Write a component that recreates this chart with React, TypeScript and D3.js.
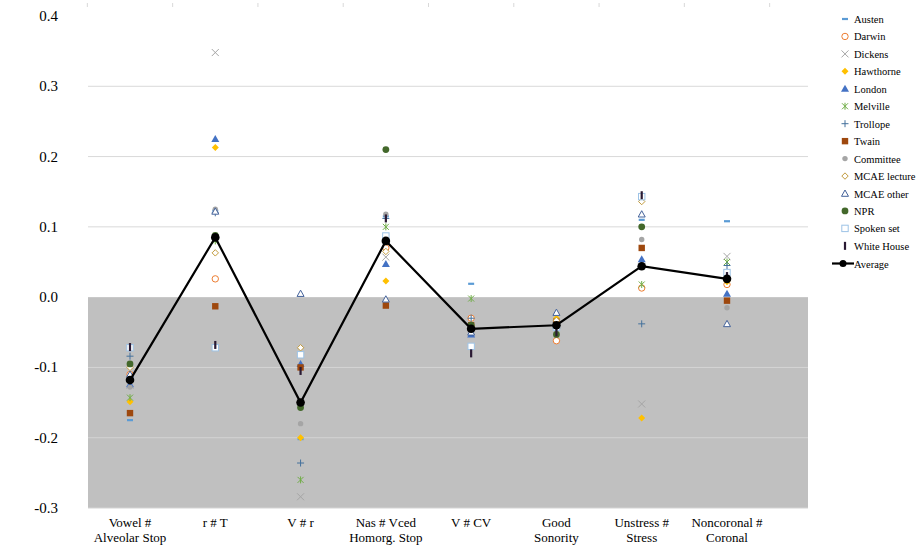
import React from "react";
import * as d3 from "d3";

const categories = [["Vowel #", "Alveolar Stop"], ["r # T"], ["V # r"], ["Nas # Vced", "Homorg. Stop"], ["V # CV"], ["Good", "Sonority"], ["Unstress #", "Stress"], ["Noncoronal #", "Coronal"]];
const yTicks = [0.4, 0.3, 0.2, 0.1, 0.0, -0.1, -0.2, -0.3];
const seriesNames = ["Austen", "Darwin", "Dickens", "Hawthorne", "London", "Melville", "Trollope", "Twain", "Committee", "MCAE lecture", "MCAE other", "NPR", "Spoken set", "White House"];
const Austen = [-0.175, 0.123, -0.202, 0.115, 0.019, -0.04, 0.11, 0.108];
const Darwin = [-0.11, 0.026, -0.15, 0.07, -0.03, -0.062, 0.013, 0.018];
const Dickens = [-0.125, 0.348, -0.284, 0.057, -0.045, -0.04, -0.152, 0.058];
const Hawthorne = [-0.149, 0.213, -0.2, 0.023, -0.045, -0.03, -0.172, 0.022];
const London = [-0.124, 0.225, -0.095, 0.047, -0.053, -0.04, 0.054, 0.005];
const Melville = [-0.143, 0.08, -0.26, 0.1, -0.002, -0.04, 0.018, 0.05];
const Trollope = [-0.084, 0.12, -0.236, 0.112, -0.03, -0.04, -0.038, 0.045];
const Twain = [-0.165, -0.013, -0.1, -0.012, -0.04, -0.035, 0.07, -0.005];
const Committee = [-0.128, 0.125, -0.18, 0.118, -0.05, -0.04, 0.082, -0.015];
const MCAElecture = [-0.1, 0.063, -0.072, 0.065, -0.04, -0.033, 0.136, 0.025];
const MCAEother = [-0.11, 0.122, 0.005, -0.003, -0.05, -0.022, 0.118, -0.038];
const NPR = [-0.095, 0.088, -0.157, 0.21, -0.04, -0.053, 0.1, 0.025];
const SpokenSet = [-0.072, -0.072, -0.082, 0.087, -0.07, -0.043, 0.143, 0.035];
const WhiteHouse = [-0.071, -0.068, -0.105, 0.112, -0.08, -0.05, 0.145, 0.03];
const Average = [-0.118, 0.085, -0.15, 0.08, -0.045, -0.04, 0.044, 0.026];
const seriesValues = [Austen, Darwin, Dickens, Hawthorne, London, Melville, Trollope, Twain, Committee, MCAElecture, MCAEother, NPR, SpokenSet, WhiteHouse];

const FONT = "'Times New Roman', Times, 'Liberation Serif', serif";

function Marker({ i, x, y }: { i: number; x: number; y: number }) {
  switch (i) {
    case 0: return <rect x={x - 3} y={y - 1.1} width={6} height={2.2} fill="#5b9bd5" />;
    case 1: return <circle cx={x} cy={y} r={3.2} fill="white" stroke="#ed7d31" strokeWidth={1} />;
    case 2: return <path d={`M${x - 3.5},${y - 3.5}L${x + 3.5},${y + 3.5}M${x - 3.5},${y + 3.5}L${x + 3.5},${y - 3.5}`} stroke="#a5a5a5" strokeWidth={1} />;
    case 3: return <path d={`M${x},${y - 3.5}L${x + 3.5},${y}L${x},${y + 3.5}L${x - 3.5},${y}Z`} fill="#ffc000" />;
    case 4: return <path d={`M${x},${y - 4}L${x + 4},${y + 3}L${x - 4},${y + 3}Z`} fill="#4472c4" />;
    case 5: return <path d={`M${x - 3},${y - 3}L${x + 3},${y + 3}M${x - 3},${y + 3}L${x + 3},${y - 3}M${x},${y - 3.5}L${x},${y + 3.5}`} stroke="#70ad47" strokeWidth={1} />;
    case 6: return <path d={`M${x - 3.5},${y}L${x + 3.5},${y}M${x},${y - 3.5}L${x},${y + 3.5}`} stroke="#44719c" strokeWidth={1} />;
    case 7: return <rect x={x - 3.2} y={y - 3.2} width={6.4} height={6.4} fill="#9e480e" />;
    case 8: return <circle cx={x} cy={y} r={2.7} fill="#a5a5a5" />;
    case 9: return <path d={`M${x},${y - 3.2}L${x + 3.2},${y}L${x},${y + 3.2}L${x - 3.2},${y}Z`} fill="white" stroke="#c19a3c" strokeWidth={1} />;
    case 10: return <path d={`M${x},${y - 3.5}L${x + 3.5},${y + 2.8}L${x - 3.5},${y + 2.8}Z`} fill="white" stroke="#44629a" strokeWidth={1} />;
    case 11: return <circle cx={x} cy={y} r={3.4} fill="#43682b" />;
    case 12: return <rect x={x - 3.2} y={y - 3.2} width={6.4} height={6.4} fill="white" stroke="#9dc3e6" strokeWidth={1} />;
    case 13: return <rect x={x - 1.1} y={y - 4} width={2.2} height={8} fill="#2a1a33" />;
    default: return null;
  }
}

export default function App() {
  const W = 920, H = 550;
  const plotL = 88, plotR = 808;
  const x = d3.scalePoint<number>().domain(d3.range(categories.length)).range([130, 727]);
  const y = d3.scaleLinear().domain([-0.3, 0.4]).range([508, 16]);
  const line = d3.line<number>().x((_, i) => x(i)!).y((d) => y(d));
  const step = x.step();
  return (
    <svg width={W} height={H} style={{ position: "absolute", left: 0, top: 0, fontFamily: FONT }}>
      <rect x={0} y={0} width={W} height={H} fill="white" />
      <rect x={plotL} y={y(0)} width={plotR - plotL} height={y(-0.3) - y(0)} fill="#c0c0c0" />
      {yTicks.map((t) => (
        <g key={t}>
          {t !== 0 && t !== 0.4 && <line x1={plotL} x2={plotR} y1={y(t)} y2={y(t)} stroke={t > 0 ? "#d9d9d9" : "#d4d4d4"} strokeWidth={1} />}
          <text x={58} y={y(t) + 5} textAnchor="end" fontSize={15}>{t.toFixed(1)}</text>
        </g>
      ))}
      {d3.range(categories.length + 1).map((i) => (
        <line key={i} x1={130 - step / 2 + i * step} x2={130 - step / 2 + i * step} y1={3} y2={7} stroke="#d9d9d9" />
      ))}
      {categories.map((c, i) => (
        <text key={i} x={x(i)} y={527} textAnchor="middle" fontSize={13}>
          {c.map((l, j) => <tspan key={j} x={x(i)} dy={j === 0 ? 0 : 15}>{l}</tspan>)}
        </text>
      ))}
      {seriesValues.map((vals, si) => vals.map((v, ci) => <Marker key={`${si}-${ci}`} i={si} x={x(ci)!} y={y(v)} />))}
      <path d={line(Average)!} fill="none" stroke="black" strokeWidth={2.2} />
      {Average.map((v, i) => <circle key={i} cx={x(i)} cy={y(v)} r={4.3} fill="black" />)}
      {seriesNames.map((n, i) => (
        <g key={n}>
          <Marker i={i} x={845} y={19 + i * 17.45} />
          <text x={854} y={23 + i * 17.45} fontSize={10.5}>{n}</text>
        </g>
      ))}
      <g>
        <line x1={832} x2={854} y1={263.5} y2={263.5} stroke="black" strokeWidth={2.2} />
        <circle cx={843} cy={263.5} r={3.5} fill="black" />
        <text x={854} y={267.5} fontSize={10.5}>Average</text>
      </g>
    </svg>
  );
}
